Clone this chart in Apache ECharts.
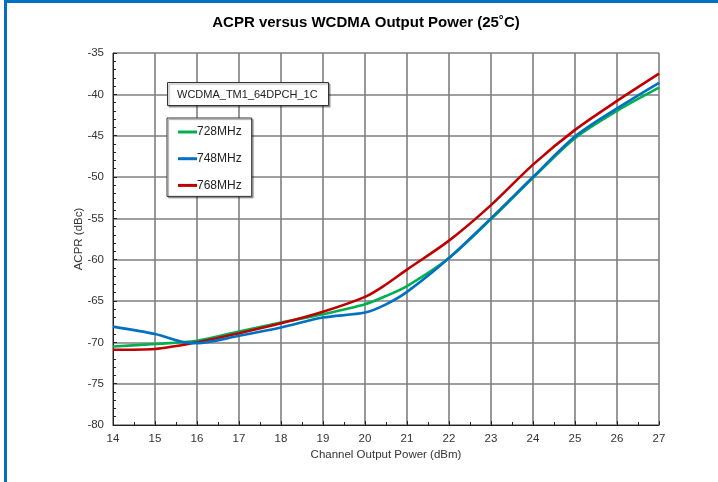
<!DOCTYPE html>
<html>
<head>
<meta charset="utf-8">
<script src="https://cdn.jsdelivr.net/npm/echarts@6/dist/echarts.min.js"></script>
<style>
  html, body { margin: 0; padding: 0; background: #fff; }
  #frame { position: absolute; left: 4px; top: 0; width: 714px; height: 482px;
           border-left: 3px solid #0070c0; border-top: 3px solid #0070c0; box-sizing: border-box; }
  #chart { position: absolute; left: 0; top: 0; width: 718px; height: 482px; }
</style>
</head>
<body>
<div id="frame"></div>
<div id="chart"></div>
<script>
// --- data ---
const power728 = [14, 15, 16, 17, 18, 19, 20, 20.5, 21, 22, 23, 24, 25, 26, 27];
const acpr728 = [-70.5, -70.2, -69.8, -68.7, -67.6, -66.6, -65.4, -64.4, -63.2, -59.8, -55.1, -50.1, -45.3, -42.0, -39.2];

const power748 = [14, 15, 15.7, 16, 17, 18, 19, 20, 20.5, 21, 22, 23, 24, 25, 26, 27];
const acpr748 = [-68.1, -69.0, -70.0, -70.1, -69.2, -68.2, -67.0, -66.4, -65.4, -63.9, -59.8, -55.0, -50.0, -45.1, -41.7, -38.6];

const power768 = [14, 15, 16, 17, 18, 19, 20, 20.5, 21, 22, 23, 24, 25, 26, 27];
const acpr768 = [-70.9, -70.8, -70.0, -68.9, -67.7, -66.3, -64.5, -63.0, -61.2, -57.7, -53.4, -48.5, -44.3, -40.8, -37.5];

const seriesNames = ['728MHz', '748MHz', '768MHz'];
const seriesColors = ['#00b050', '#0070c0', '#c00000'];
const testSignal = 'WCDMA_TM1_64DPCH_1C';

const zip = (xs, ys) => xs.map((x, i) => [x, ys[i]]);
const seriesData = [zip(power728, acpr728), zip(power748, acpr748), zip(power768, acpr768)];

const chart = echarts.init(document.getElementById('chart'));

const fontFamily = 'Liberation Sans, Arial, sans-serif';
const gridLine = { show: true, lineStyle: { color: '#7f7f7f', width: 1.6 } };
const axisFont = { color: '#333', fontSize: 11.5, fontFamily: fontFamily };

chart.setOption({
  animation: false,
  title: [
    {
      text: 'ACPR versus WCDMA Output Power (25˚C)',
      left: 361, top: 10, textAlign: 'center',
      textStyle: { fontSize: 15, fontWeight: 'bold', color: '#000', fontFamily: fontFamily }
    },
    {
      text: testSignal,
      left: 167, top: 82,
      padding: [7, 11, 6, 10],
      borderColor: '#333', borderWidth: 1, backgroundColor: '#fff',
      shadowColor: 'rgba(0,0,0,0.35)', shadowOffsetX: 1.5, shadowOffsetY: 1.5, shadowBlur: 1,
      textStyle: { fontSize: 11, fontWeight: 'normal', color: '#222', fontFamily: fontFamily }
    }
  ],
  legend: {
    orient: 'vertical',
    left: 167, top: 118,
    padding: [7, 10, 4, 11],
    itemGap: 12.7,
    itemWidth: 19, itemHeight: 3,
    backgroundColor: '#fff',
    borderColor: '#333', borderWidth: 1,
    shadowColor: 'rgba(0,0,0,0.35)', shadowOffsetX: 1.5, shadowOffsetY: 1.5, shadowBlur: 1,
    icon: 'rect',
    data: seriesNames,
    textStyle: { fontSize: 12, color: '#222', padding: [0, 0, 0, -5], height: 14, lineHeight: 14, fontFamily: fontFamily }
  },
  grid: { left: 113, right: 59, top: 53, bottom: 57 },
  xAxis: {
    type: 'value', min: 14, max: 27, interval: 1,
    name: 'Channel Output Power (dBm)', nameLocation: 'middle', nameGap: 24,
    nameMoveOverlap: false,
    nameTextStyle: axisFont,
    axisLine: { lineStyle: { color: '#222', width: 1 } },
    axisTick: { inside: true, length: 4, lineStyle: { color: '#222' } },
    minorTick: { show: true, splitNumber: 2, length: 3, lineStyle: { color: '#222' } },
    axisLabel: Object.assign({ margin: 8 }, axisFont),
    splitLine: gridLine
  },
  yAxis: {
    type: 'value', min: -80, max: -35, interval: 5,
    name: 'ACPR (dBc)', nameLocation: 'middle', nameGap: 28,
    nameMoveOverlap: false,
    nameTextStyle: axisFont,
    axisLine: { show: true, lineStyle: { color: '#222', width: 1 } },
    axisTick: { show: true, inside: true, length: 4, lineStyle: { color: '#222' } },
    minorTick: { show: true, splitNumber: 5, length: 3, lineStyle: { color: '#222' } },
    axisLabel: Object.assign({ margin: 9 }, axisFont),
    splitLine: gridLine
  },
  series: seriesNames.map((name, i) => ({
    name: name,
    type: 'line',
    data: seriesData[i],
    smooth: 0.3,
    showSymbol: false,
    color: seriesColors[i],
    lineStyle: { width: 2.6, color: seriesColors[i] },
    z: 3 + (i === 1 ? 1 : 0)
  }))
});
</script>
</body>
</html>
